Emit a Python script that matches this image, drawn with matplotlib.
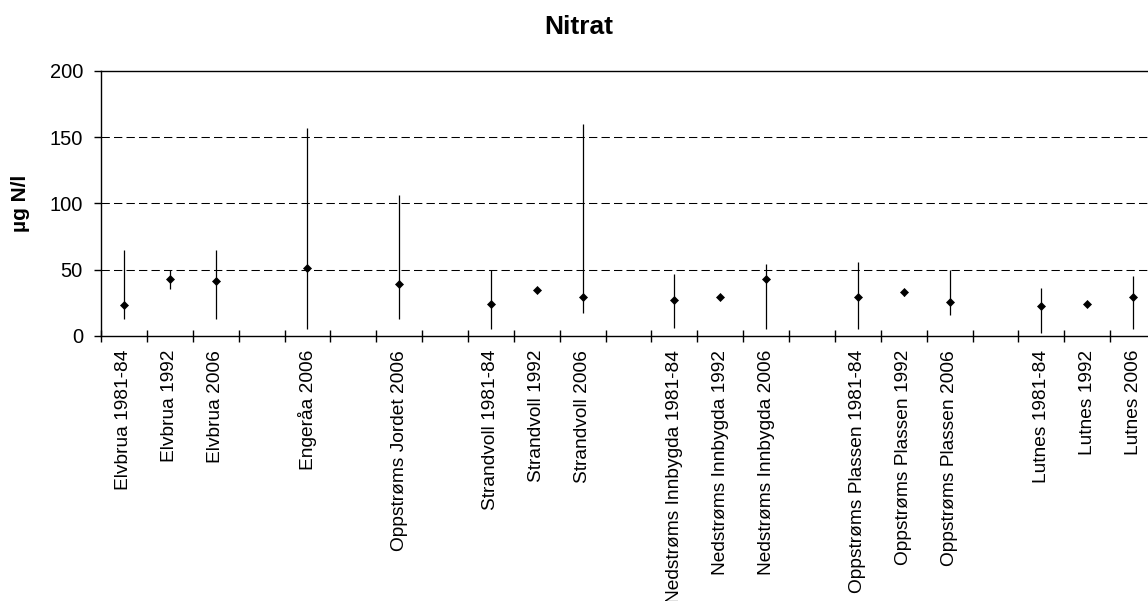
import numpy as np
import matplotlib.pyplot as plt

plt.rcParams['font.family'] = ['Liberation Sans', 'DejaVu Sans']

# categories (blank slots separate the stations)
labels = ['Elvbrua 1981-84', 'Elvbrua 1992', 'Elvbrua 2006', '',
          'Engeråa 2006', '',
          'Oppstrøms Jordet 2006', '',
          'Strandvoll 1981-84', 'Strandvoll 1992', 'Strandvoll 2006', '',
          'Nedstrøms Innbygda 1981-84', 'Nedstrøms Innbygda 1992', 'Nedstrøms Innbygda 2006', '',
          'Oppstrøms Plassen 1981-84', 'Oppstrøms Plassen 1992', 'Oppstrøms Plassen 2006', '',
          'Lutnes 1981-84', 'Lutnes 1992', 'Lutnes 2006']
nan = np.nan
mean = [23, 43, 41.5, nan, 51, nan, 39, nan, 24, 34.5, 29.5, nan,
        27, 29.5, 43, nan, 29.5, 33.5, 25.5, nan, 22.5, 24, 29.5]
high = [64.5, 49.5, 64.5, nan, 157, nan, 106, nan, 49.5, 35, 160, nan,
        47, 29.5, 54, nan, 55.5, 35, 49.5, nan, 36, 24, 45.5]
low = [13, 35.5, 13, nan, 5, nan, 13, nan, 5, 34, 17, nan,
       6, 29.5, 5, nan, 5, 30, 15.5, nan, 2, 24, 5]

x = np.arange(len(labels))

fig = plt.figure(figsize=(11.48, 6.01), dpi=100)
ax = fig.add_axes([0.088, 0.441, 0.919, 0.441])

for yv in [50, 100, 150]:
    ax.axhline(yv, color='black', lw=0.75, ls=(0, (8, 4)), zorder=1)

ax.vlines(x, low, high, color='black', lw=0.9, zorder=2)
ax.plot(x, mean, 'D', color='black', ms=4.2, mew=0.5, ls='none', zorder=3)

ax.set_xlim(-0.5, len(labels) - 0.5)
ax.set_ylim(0, 200)
ax.set_yticks([0, 50, 100, 150, 200])
ax.tick_params(axis='y', direction='out', length=5, width=1, labelsize=14.5, pad=8)

ax.set_xticks(x)
ax.set_xticklabels(labels, rotation=90, fontsize=13.8)
ax.set_xticks(np.arange(-0.5, len(labels)), minor=True)
ax.tick_params(axis='x', which='major', length=0, pad=10)
ax.tick_params(axis='x', which='minor', direction='inout', length=8, width=1)

for s in ['left', 'bottom', 'top']:
    ax.spines[s].set_linewidth(1)
ax.spines['right'].set_visible(False)

ax.set_ylabel('µg N/l', fontsize=15, fontweight='bold', labelpad=14)
fig.text(579 / 1148, 1 - 27 / 601, 'Nitrat', fontsize=19, fontweight='bold',
         ha='center', va='center')

fig.savefig('out.png', dpi=100)
